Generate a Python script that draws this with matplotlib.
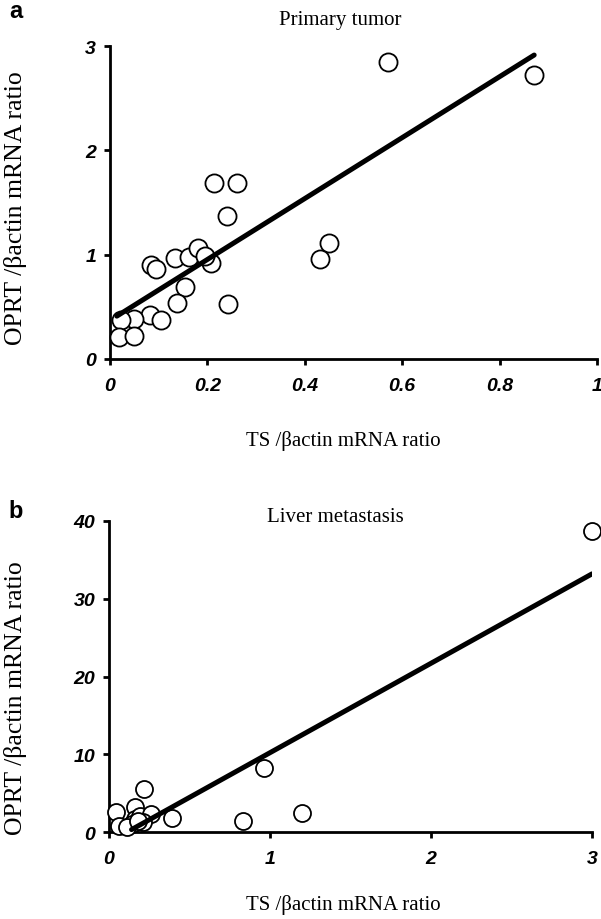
import matplotlib
matplotlib.use("Agg")
import matplotlib.pyplot as plt
import numpy as np

SERIF = ["Liberation Serif", "DejaVu Serif"]
SANS = ["Liberation Sans", "DejaVu Sans"]

# panel a: primary tumor
ts_a = [0.570, 0.871, 0.213, 0.260, 0.240, 0.449, 0.432, 0.084, 0.094, 0.133,
        0.162, 0.180, 0.207, 0.195, 0.154, 0.137, 0.242, 0.082, 0.104, 0.049,
        0.022, 0.019, 0.050]
oprt_a = [2.85, 2.72, 1.69, 1.69, 1.37, 1.11, 0.96, 0.90, 0.86, 0.97,
          0.98, 1.06, 0.92, 0.99, 0.69, 0.54, 0.53, 0.42, 0.37, 0.38,
          0.37, 0.21, 0.22]
fit_a = (2.92, 0.37)          # slope, intercept
fit_a_range = (0.014, 0.871)

# panel b: liver metastasis
ts_b = [3.0, 0.22, 0.96, 1.20, 0.83, 0.39, 0.045, 0.06, 0.16, 0.16,
        0.19, 0.26, 0.14, 0.21, 0.11, 0.18]
oprt_b = [38.7, 5.5, 8.2, 2.4, 1.4, 1.8, 2.6, 0.8, 3.2, 1.7,
          2.1, 2.3, 1.0, 1.3, 0.6, 1.4]
fit_b = (11.5, -1.3)
fit_b_range = (0.14, 3.0)

xticks_a = [0, 0.2, 0.4, 0.6, 0.8, 1]
xticklabels_a = ["0", "0.2", "0.4", "0.6", "0.8", "1"]
yticks_a = [0, 1, 2, 3]
xticks_b = [0, 1, 2, 3]
yticks_b = [0, 10, 20, 30, 40]

xlabel = "TS /\u03b2actin mRNA ratio"
ylabel = "OPRT /\u03b2actin mRNA ratio"

fig = plt.figure(figsize=(6.01, 9.2), dpi=100)
W, H = 601, 920


def px_axes(l, r, t, b):
    return fig.add_axes([l / W, 1 - b / H, (r - l) / W, (b - t) / H])


def style(ax, xt, xtl, yt, xlim, ylim):
    ax.set_xlim(*xlim)
    ax.set_ylim(*ylim)
    ax.set_xticks(xt)
    ax.set_xticklabels(xtl)
    ax.set_yticks(yt)
    ax.set_yticklabels([str(v) for v in yt])
    for s in ("top", "right"):
        ax.spines[s].set_visible(False)
    for s in ("left", "bottom"):
        ax.spines[s].set_linewidth(2.0)
    ax.tick_params(direction="out", length=4, width=2.0, pad=6)
    for lab in ax.get_xticklabels() + ax.get_yticklabels():
        lab.set_family(SANS)
        lab.set_fontweight("bold")
        lab.set_fontstyle("italic")
        lab.set_fontsize(14)
    ax.tick_params(axis="x", pad=9)


ax1 = px_axes(110, 597, 47, 360)
ax1.scatter(ts_a, oprt_a, s=170, facecolors="white", edgecolors="black",
            linewidths=1.3, zorder=3, clip_on=False)
xx = np.array(fit_a_range)
ax1.plot(xx, fit_a[0] * xx + fit_a[1], color="black", lw=3.6, zorder=4,
         solid_capstyle="round")
style(ax1, xticks_a, xticklabels_a, yticks_a, (0, 1), (0, 3))

ax2 = px_axes(109, 592, 522, 833)
ax2.scatter(ts_b, oprt_b, s=150, facecolors="white", edgecolors="black",
            linewidths=1.3, zorder=3, clip_on=False)
xx = np.array(fit_b_range)
ax2.plot(xx, fit_b[0] * xx + fit_b[1], color="black", lw=3.6, zorder=4,
         solid_capstyle="round")
style(ax2, xticks_b, [str(v) for v in xticks_b], yticks_b, (0, 3), (0, 40))

# titles, labels, panel letters
fig.text(340 / W, 1 - 20 / H, "Primary tumor", family=SERIF, fontsize=15,
         ha="center", va="center")
fig.text(335 / W, 1 - 517 / H, "Liver metastasis", family=SERIF, fontsize=15,
         ha="center", va="center")
fig.text(343 / W, 1 - 441 / H, xlabel, family=SERIF, fontsize=15,
         ha="center", va="center")
fig.text(343 / W, 1 - 905 / H, xlabel, family=SERIF, fontsize=15,
         ha="center", va="center")
fig.text(16 / W, 1 - 208 / H, ylabel, family=SERIF, fontsize=18.5,
         ha="center", va="center", rotation=90)
fig.text(16 / W, 1 - 698 / H, ylabel, family=SERIF, fontsize=18.5,
         ha="center", va="center", rotation=90)
fig.text(16 / W, 1 - 12 / H, "a", family=SANS, fontweight="bold", fontsize=17,
         ha="center", va="center")
fig.text(16 / W, 1 - 512 / H, "b", family=SANS, fontweight="bold", fontsize=17,
         ha="center", va="center")

fig.savefig("out.png", dpi=100)
